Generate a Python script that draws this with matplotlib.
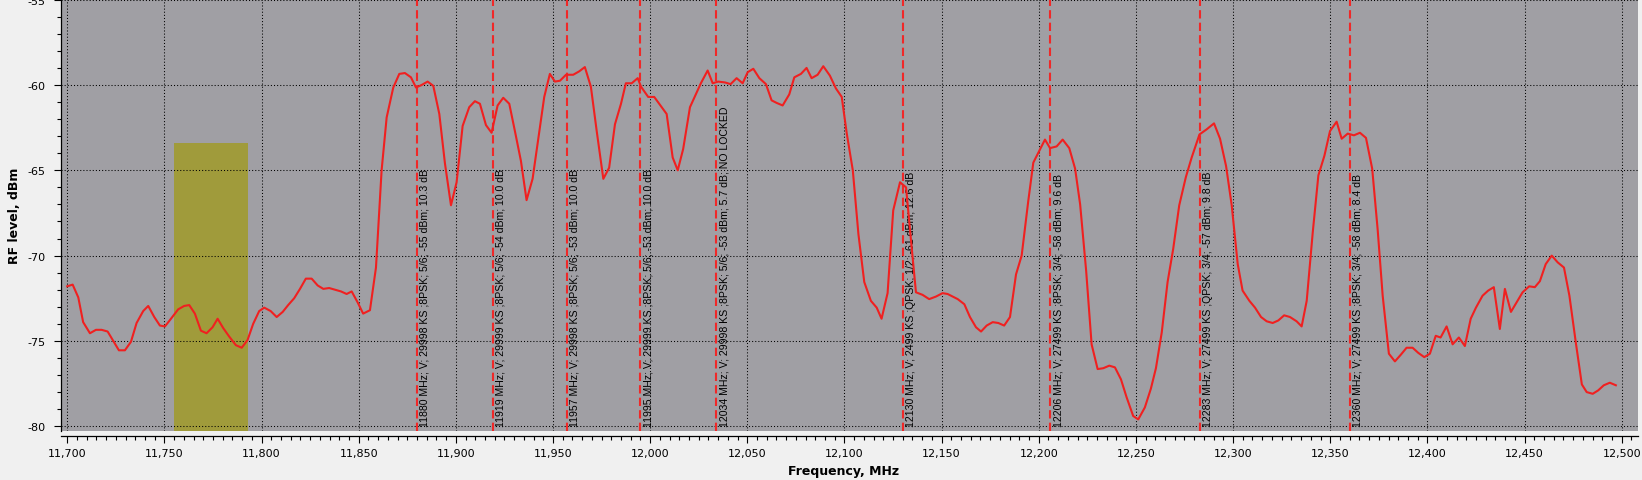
import matplotlib
matplotlib.use("Agg")
import matplotlib.pyplot as plt
from matplotlib.ticker import MultipleLocator, FuncFormatter

# ---------------- data ----------------
freq_mhz = [
    11700.0, 11702.8, 11705.7, 11708.2, 11711.7, 11714.8, 11717.7, 11720.8, 11723.7, 11726.6,
    11729.7, 11732.8, 11735.7, 11739.1, 11741.7, 11744.8, 11747.7, 11750.3, 11753.4, 11757.1,
    11760.2, 11762.8, 11765.7, 11768.8, 11771.7, 11774.8, 11777.4, 11780.3, 11783.4, 11786.8,
    11789.8, 11792.8, 11795.7, 11798.8, 11801.4, 11804.7, 11807.8, 11810.9, 11813.7, 11816.8,
    11819.8, 11822.8, 11825.8, 11828.9, 11831.8, 11834.8, 11837.8, 11840.9, 11843.8, 11846.4,
    11849.5, 11852.3, 11855.8, 11858.9, 11861.8, 11864.4, 11867.8, 11870.9, 11873.8, 11876.9,
    11879.5, 11882.4, 11885.5, 11888.4, 11891.5, 11894.4, 11897.5, 11900.4, 11903.5, 11906.9,
    11909.8, 11912.4, 11915.5, 11918.4, 11921.5, 11924.4, 11927.5, 11930.4, 11933.5, 11936.4,
    11939.5, 11942.6, 11945.5, 11948.4, 11951.0, 11953.6, 11956.7, 11960.4, 11963.5, 11966.4,
    11969.5, 11972.5, 11975.9, 11978.9, 11981.9, 11985.0, 11987.5, 11990.5, 11993.6, 11995.3,
    11999.0, 12002.1, 12005.6, 12008.5, 12011.6, 12014.2, 12017.0, 12020.5, 12023.1, 12026.1,
    12029.6, 12032.2, 12035.0, 12038.5, 12041.4, 12044.5, 12047.6, 12050.2, 12053.1, 12056.2,
    12059.6, 12062.5, 12065.1, 12068.2, 12071.6, 12074.2, 12077.6, 12080.5, 12083.1, 12086.2,
    12089.1, 12092.5, 12095.6, 12098.6, 12101.2, 12104.3, 12107.2, 12110.2, 12113.6, 12116.6,
    12119.1, 12122.2, 12125.1, 12128.6, 12131.7, 12134.2, 12136.8, 12140.2, 12143.6, 12147.1,
    12150.5, 12153.1, 12155.7, 12158.3, 12161.7, 12164.6, 12167.7, 12170.3, 12173.2, 12176.3,
    12179.2, 12182.2, 12185.2, 12188.3, 12191.2, 12194.6, 12197.2, 12200.3, 12203.2, 12205.8,
    12209.2, 12212.3, 12215.7, 12218.7, 12221.3, 12224.4, 12227.2, 12230.3, 12233.2, 12236.3,
    12239.2, 12242.3, 12245.2, 12248.6, 12251.2, 12254.6, 12257.7, 12260.3, 12263.3, 12266.3,
    12269.2, 12272.3, 12275.7, 12278.7, 12282.7, 12286.4, 12290.2, 12293.3, 12296.4, 12299.3,
    12302.4, 12304.9, 12308.4, 12311.3, 12314.4, 12317.3, 12320.4, 12323.3, 12326.3, 12329.3,
    12332.7, 12335.3, 12337.9, 12341.0, 12343.9, 12347.0, 12349.9, 12353.3, 12355.9, 12359.0,
    12362.2, 12365.3, 12368.4, 12371.6, 12374.4, 12377.0, 12380.2, 12383.3, 12386.4, 12389.3,
    12392.4, 12395.3, 12398.4, 12401.3, 12404.3, 12406.8, 12409.9, 12413.0, 12416.2, 12419.3,
    12422.3, 12425.0, 12428.4, 12431.3, 12434.2, 12437.3, 12439.9, 12443.0, 12445.9, 12449.0,
    12452.4, 12455.3, 12457.9, 12460.9, 12464.0, 12467.1, 12470.3, 12473.1, 12476.4, 12479.5,
    12482.0, 12485.1, 12487.9, 12490.8, 12493.9, 12497.0,
]

level_dbm = [
    -71.8, -71.7, -72.45, -73.9, -74.55, -74.35, -74.35, -74.45, -75.0, -75.55,
    -75.55, -75.05, -73.95, -73.25, -72.95, -73.6, -74.1, -74.15, -73.7, -73.15,
    -72.95, -72.9, -73.4, -74.4, -74.55, -74.2, -73.7, -74.25, -74.75, -75.25,
    -75.4, -74.95, -74.0, -73.25, -73.05, -73.25, -73.6, -73.3, -72.9, -72.5,
    -71.95, -71.35, -71.35, -71.75, -71.95, -71.9, -72.0, -72.1, -72.25, -72.1,
    -72.75, -73.4, -73.2, -70.7, -65.0, -61.9, -60.15, -59.35, -59.3, -59.55,
    -60.15, -60.0, -59.8, -60.05, -61.7, -64.6, -67.05, -65.7, -62.4, -61.3,
    -60.95, -61.1, -62.35, -62.8, -61.2, -60.75, -61.1, -62.7, -64.45, -66.75,
    -65.5, -63.0, -60.7, -59.35, -59.8, -59.75, -59.4, -59.4, -59.2, -58.95,
    -60.1, -62.7, -65.5, -64.85, -62.3, -61.1, -59.9, -59.9, -59.6, -60.1,
    -60.7, -60.7, -61.25, -61.7, -64.25, -65.0, -63.75, -61.3, -60.65, -59.9,
    -59.15, -59.9, -59.8, -59.85, -59.95, -59.6, -59.9, -59.25, -59.05, -59.6,
    -59.95, -60.9, -61.05, -61.2, -60.55, -59.55, -59.35, -59.0, -59.6, -59.4,
    -58.9, -59.45, -60.2, -60.7, -62.85, -65.0, -68.75, -71.55, -72.65, -73.05,
    -73.7, -72.2, -67.35, -65.7, -66.0, -69.05, -72.15, -72.3, -72.55, -72.4,
    -72.2, -72.25, -72.4, -72.55, -72.85, -73.6, -74.2, -74.45, -74.1, -73.9,
    -73.95, -74.1, -73.6, -71.1, -70.0, -66.8, -64.55, -63.85, -63.2, -63.7,
    -63.6, -63.2, -63.7, -64.9, -67.0, -70.9, -75.2, -76.65, -76.6, -76.45,
    -76.55, -77.25, -78.3, -79.4, -79.6, -78.9, -77.8, -76.6, -74.5, -71.55,
    -69.6, -67.05, -65.4, -64.25, -62.9, -62.6, -62.25, -63.15, -64.75, -67.05,
    -70.5, -72.05, -72.65, -73.05, -73.6, -73.85, -73.95, -73.8, -73.5, -73.6,
    -73.85, -74.15, -72.65, -68.65, -65.3, -64.15, -62.7, -62.15, -63.15, -62.85,
    -62.95, -62.8, -63.1, -64.9, -68.45, -72.35, -75.75, -76.2, -75.8, -75.4,
    -75.4, -75.7, -75.95, -75.75, -74.7, -74.8, -74.15, -75.2, -74.8, -75.3,
    -73.7, -73.05, -72.35, -72.05, -71.85, -74.3, -71.95, -73.3, -72.75, -72.15,
    -71.8, -71.85, -71.5, -70.5, -70.0, -70.4, -70.7, -72.35, -75.1, -77.55,
    -78.0, -78.1, -77.9, -77.6, -77.45, -77.6,
]

marker_freqs = [11880, 11919, 11957, 11995, 12034, 12130, 12206, 12283, 12360]
marker_labels = [
    "11880 MHz; V; 29998 KS ;8PSK; 5/6; -55 dBm; 10.3 dB",
    "11919 MHz; V; 29999 KS ;8PSK; 5/6; -54 dBm; 10.0 dB",
    "11957 MHz; V; 29998 KS ;8PSK; 5/6; -53 dBm; 10.0 dB",
    "11995 MHz; V; 29999 KS ;8PSK; 5/6; -53 dBm; 10.0 dB",
    "12034 MHz; V; 29998 KS ;8PSK; 5/6; -53 dBm; 5.7 dB; NO LOCKED",
    "12130 MHz; V; 2499 KS ;QPSK; 1/2; -61 dBm; 12.6 dB",
    "12206 MHz; V; 27499 KS ;8PSK; 3/4; -58 dBm; 9.6 dB",
    "12283 MHz; V; 27499 KS ;QPSK; 3/4; -57 dBm; 9.8 dB",
    "12360 MHz; V; 27499 KS ;8PSK; 3/4; -58 dBm; 8.4 dB",
]

band_start, band_end = 11755.0, 11793.0
band_top = -63.4

x_title = "Frequency, MHz"
y_title = "RF level, dBm"

# ---------------- figure ----------------
W, H, DPI = 1642, 481, 100
fig = plt.figure(figsize=(W / DPI, H / DPI), dpi=DPI, facecolor="#F0F0F0")
ax = fig.add_axes([61 / W, 1 - 432 / H, (1638 - 61) / W, 432 / H])
ax.set_facecolor("#A09FA4")

ax.set_xlim(11696.8, 12508.4)
ax.set_ylim(-80.28, -54.96)

# yellow band
ax.fill_between([band_start, band_end], [band_top, band_top], [-80.28, -80.28],
                color="#A09B3B", linewidth=0, zorder=1)

# grid
ax.xaxis.set_major_locator(MultipleLocator(50))
ax.xaxis.set_minor_locator(MultipleLocator(5))
ax.yaxis.set_major_locator(MultipleLocator(5))
ax.yaxis.set_minor_locator(MultipleLocator(1))
ax.grid(True, which="major", color="black", linestyle=(0, (1, 2)), linewidth=0.75, zorder=2)
ax.set_axisbelow(False)

# markers
for f, lab in zip(marker_freqs, marker_labels):
    ax.axvline(f, color="#F02828", linewidth=1.5, linestyle=(0, (4.0, 2.0)), zorder=3)
    ax.annotate(lab, xy=(f, -80.0), xytext=(3, 0), textcoords="offset pixels",
                rotation=90, ha="left", va="bottom", fontsize=7.6,
                family=["Liberation Sans", "DejaVu Sans"], color="black", zorder=4)

# spectrum
ax.plot(freq_mhz, level_dbm, color="#F02020", linewidth=1.5, zorder=5)

# spines / ticks
for s in ("top", "right"):
    ax.spines[s].set_visible(False)
ax.spines["bottom"].set_position(("outward", 3.6))
ax.spines["left"].set_linewidth(0.9)
ax.spines["bottom"].set_linewidth(0.9)

ax.xaxis.set_major_formatter(FuncFormatter(lambda v, p: f"{int(round(v)):,}"))
ax.yaxis.set_major_formatter(FuncFormatter(lambda v, p: f"{int(round(v))}"))
ax.tick_params(axis="both", which="major", direction="out", length=5, width=0.8,
               labelsize=8, color="black")
ax.tick_params(axis="both", which="minor", direction="out", length=3, width=0.8)
ax.tick_params(axis="x", which="major", pad=4)
ax.tick_params(axis="y", which="major", pad=6)

fig.text(15 / W, 1 - 216 / H, y_title, rotation=90, ha="center", va="center",
         fontsize=9, fontweight="bold")
fig.text(844 / W, 1 - 472 / H, x_title, ha="center", va="center",
         fontsize=9, fontweight="bold")

fig.savefig("out.png", dpi=DPI, facecolor=fig.get_facecolor())
